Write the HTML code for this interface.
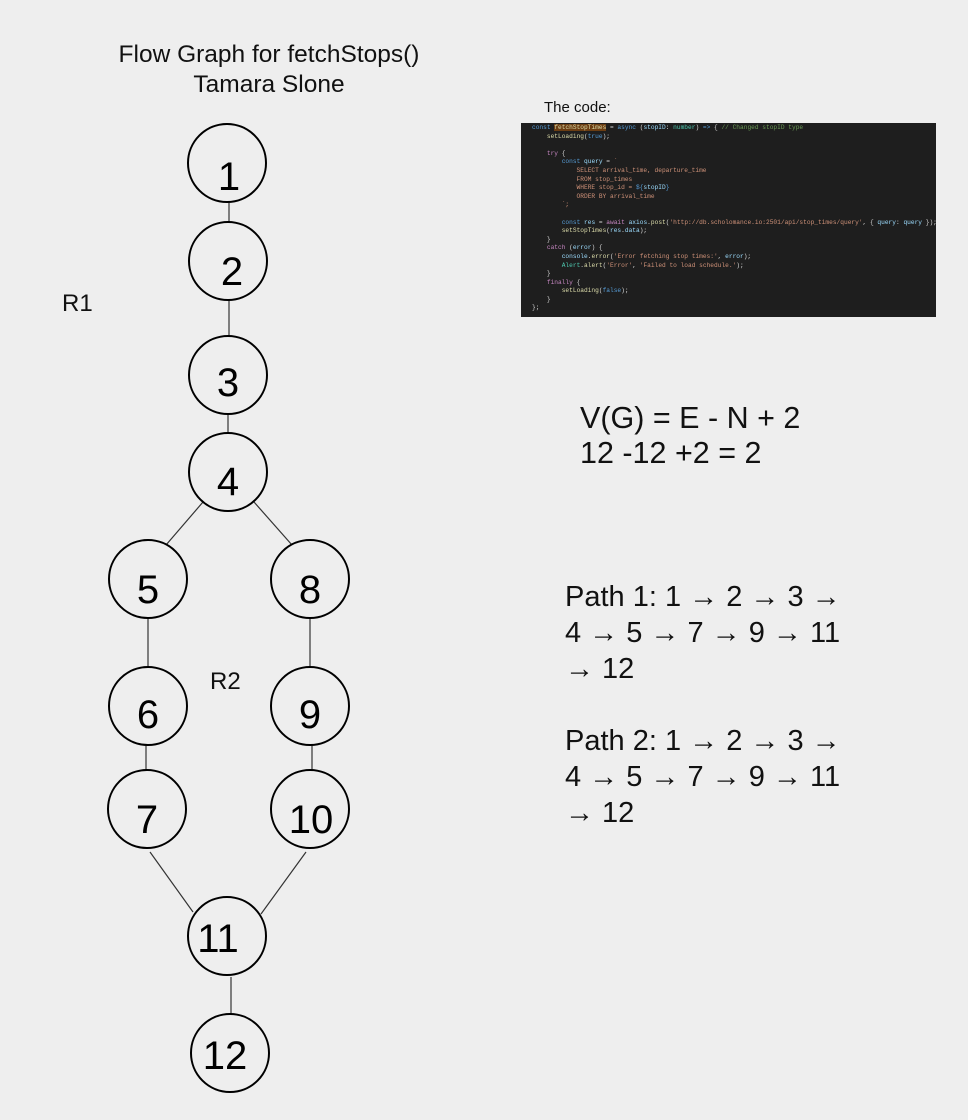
<!DOCTYPE html>
<html><head><meta charset="utf-8"><style>
html,body{margin:0;padding:0;background:#eeeeee;}
body{width:968px;height:1120px;position:relative;overflow:hidden;font-family:"Liberation Sans",sans-serif;}
.t{position:absolute;color:#111;white-space:nowrap;}
.code{position:absolute;left:521px;top:123px;width:415px;height:194px;background:#1e1e1e;font-family:"Liberation Mono",monospace;font-size:6.2px;line-height:8.6px;color:#d4d4d4;padding-top:1px;box-sizing:border-box;overflow:hidden;}
.code div{white-space:pre;padding-left:11px;}
.k{color:#569cd6}.f{color:#dcdcaa}.s{color:#ce9178}.v{color:#9cdcfe}.c{color:#6a9955}.p{color:#c586c0}.y{color:#4ec9b0}
</style></head><body>
<div class="t" style="left:0;width:538px;text-align:center;top:40px;font-size:24.5px;line-height:30px;">Flow Graph for fetchStops()<br>Tamara Slone</div>
<div class="t" style="left:544px;top:99px;font-size:15px;">The code:</div>
<div class="code">
<div><span class="k">const</span> <span class="f" style="background:#6b3d12">fetchStopTimes</span> = <span class="k">async</span> (<span class="v">stopID</span>: <span class="y">number</span>) <span class="k">=&gt;</span> { <span class="c">// Changed stopID type</span></div>
<div>    <span class="f">setLoading</span>(<span class="k">true</span>);</div>
<div> </div>
<div>    <span class="p">try</span> {</div>
<div>        <span class="k">const</span> <span class="v">query</span> = <span class="s">`</span></div>
<div class="s">            SELECT arrival_time, departure_time</div>
<div class="s">            FROM stop_times</div>
<div class="s">            WHERE stop_id = <span class="k">${</span><span class="v">stopID</span><span class="k">}</span></div>
<div class="s">            ORDER BY arrival_time</div>
<div class="s">        `;</div>
<div> </div>
<div>        <span class="k">const</span> <span class="v">res</span> = <span class="p">await</span> <span class="v">axios</span>.<span class="f">post</span>(<span class="s">'http://db.scholomance.io:2501/api/stop_times/query'</span>, { <span class="v">query</span>: <span class="v">query</span> });</div>
<div>        <span class="f">setStopTimes</span>(<span class="v">res</span>.<span class="v">data</span>);</div>
<div>    }</div>
<div>    <span class="p">catch</span> (<span class="v">error</span>) {</div>
<div>        <span class="v">console</span>.<span class="f">error</span>(<span class="s">'Error fetching stop times:'</span>, <span class="v">error</span>);</div>
<div>        <span class="y">Alert</span>.<span class="f">alert</span>(<span class="s">'Error'</span>, <span class="s">'Failed to load schedule.'</span>);</div>
<div>    }</div>
<div>    <span class="p">finally</span> {</div>
<div>        <span class="f">setLoading</span>(<span class="k">false</span>);</div>
<div>    }</div>
<div>};</div>
</div>
<div class="t" style="left:62px;top:290px;font-size:24px;">R1</div>
<div class="t" style="left:210px;top:668px;font-size:24px;">R2</div>
<div class="t" style="left:580px;top:401px;font-size:30.5px;line-height:35px;">V(G) = E - N + 2<br>12 -12 +2 = 2</div>
<div class="t" style="left:565px;top:579px;font-size:29px;line-height:36px;">Path 1: 1 → 2 → 3 →<br>4 → 5 → 7 → 9 → 11<br>→ 12</div>
<div class="t" style="left:565px;top:723px;font-size:29px;line-height:36px;">Path 2: 1 → 2 → 3 →<br>4 → 5 → 7 → 9 → 11<br>→ 12</div>
<svg width="968" height="1120" style="position:absolute;left:0;top:0" font-family="Liberation Sans, sans-serif">
<g stroke="#333" stroke-width="1.2">
<line x1="229" y1="202" x2="229" y2="222"/>
<line x1="229" y1="300" x2="229" y2="336"/>
<line x1="228" y1="414" x2="228" y2="433"/>
<line x1="203" y1="502" x2="166" y2="545"/>
<line x1="254" y1="502" x2="292" y2="545"/>
<line x1="148" y1="618" x2="148" y2="667"/>
<line x1="310" y1="618" x2="310" y2="667"/>
<line x1="146" y1="745" x2="146" y2="770"/>
<line x1="312" y1="745" x2="312" y2="770"/>
<line x1="150" y1="852" x2="193" y2="912"/>
<line x1="306" y1="852" x2="261" y2="914"/>
<line x1="231" y1="977" x2="231" y2="1014"/>
</g>
<g fill="none" stroke="#000" stroke-width="2">
<circle cx="227" cy="163" r="39"/>
<circle cx="228" cy="261" r="39"/>
<circle cx="228" cy="375" r="39"/>
<circle cx="228" cy="472" r="39"/>
<circle cx="148" cy="579" r="39"/>
<circle cx="310" cy="579" r="39"/>
<circle cx="148" cy="706" r="39"/>
<circle cx="310" cy="706" r="39"/>
<circle cx="147" cy="809" r="39"/>
<circle cx="310" cy="809" r="39"/>
<circle cx="227" cy="936" r="39"/>
<circle cx="230" cy="1053" r="39"/>
</g>
<g font-size="40" text-anchor="middle" fill="#000">
<text x="229" y="190">1</text>
<text x="232" y="285">2</text>
<text x="228" y="396">3</text>
<text x="228" y="495">4</text>
<text x="148" y="603">5</text>
<text x="310" y="603">8</text>
<text x="148" y="728">6</text>
<text x="310" y="728">9</text>
<text x="147" y="833">7</text>
<text x="311" y="833">10</text>
<text x="218" y="952">11</text>
<text x="225" y="1069">12</text>
</g>
</svg>
</body></html>
